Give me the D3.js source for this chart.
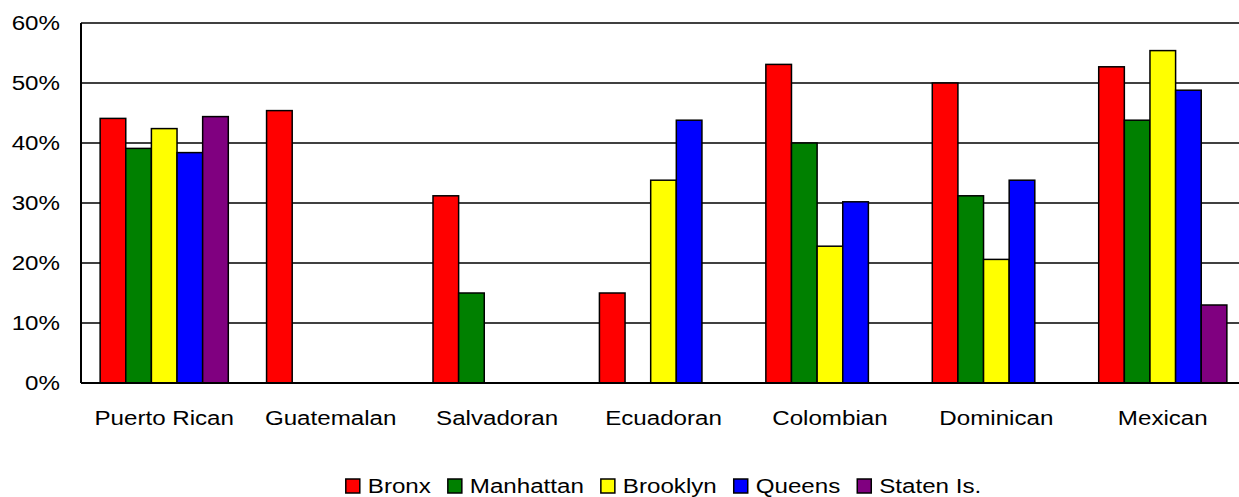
<!DOCTYPE html>
<html>
<head>
<meta charset="utf-8">
<script src="https://cdn.jsdelivr.net/npm/d3@7"></script>
<style>
  html, body { margin: 0; padding: 0; background: #fff; overflow: hidden; }
  svg { display: block; font-family: "Liberation Sans", Arial, sans-serif; }
</style>
</head>
<body>
<div id="chart"></div>
<script>
// --- data (percent) ---
const categories = ["Puerto Rican", "Guatemalan", "Salvadoran", "Ecuadoran", "Colombian", "Dominican", "Mexican"];
const seriesNames = ["Bronx", "Manhattan", "Brooklyn", "Queens", "Staten Is."];
const seriesColors = ["#ff0000", "#008000", "#ffff00", "#0000ff", "#800080"];
const bronx     = [44.1, 45.4, 31.2, 15.0, 53.1, 50.0, 52.7];
const manhattan = [39.1, null, 15.0, null, 40.0, 31.2, 43.8];
const brooklyn  = [42.4, null, null, 33.8, 22.8, 20.6, 55.4];
const queens    = [38.4, null, null, 43.8, 30.2, 33.8, 48.8];
const statenIs  = [44.4, null, null, null, null, null, 13.0];
const yTicks = [0, 10, 20, 30, 40, 50, 60];

const seriesValues = [bronx, manhattan, brooklyn, queens, statenIs];

const width = 1239, height = 497;
const plot = { left: 81, right: 1246, top: 23, bottom: 383 };
const FONT = 21, STRETCH = 1.15;

const svg = d3.select("#chart").append("svg")
    .attr("width", width)
    .attr("height", height);

const x0 = d3.scaleBand().domain(categories).range([plot.left, plot.right]).padding(0);
const groupPad = x0.bandwidth() * 0.115;
const x1 = d3.scaleBand().domain(seriesNames).range([groupPad, x0.bandwidth() - groupPad]).padding(0);
const y = d3.scaleLinear().domain([0, 60]).range([plot.bottom, plot.top]);

// gridlines
svg.append("g")
    .selectAll("line")
    .data(yTicks.filter(t => t > 0))
    .join("line")
    .attr("x1", plot.left)
    .attr("x2", plot.right)
    .attr("y1", d => y(d))
    .attr("y2", d => y(d))
    .attr("stroke", "#000")
    .attr("stroke-width", 1.4);

// y labels
svg.append("g")
    .selectAll("text")
    .data(yTicks)
    .join("text")
    .attr("transform", d => `translate(60,${y(d) + 7}) scale(${STRETCH},1)`)
    .attr("text-anchor", "end")
    .style("font-size", FONT + "px")
    .attr("fill", "#000")
    .text(d => d + "%");

// bars
const rows = [];
seriesNames.forEach((s, si) => {
    categories.forEach((c, ci) => {
        const v = seriesValues[si][ci];
        if (v != null) rows.push({ cat: c, series: s, value: v, color: seriesColors[si] });
    });
});

svg.append("g")
    .selectAll("rect")
    .data(rows)
    .join("rect")
    .attr("x", d => x0(d.cat) + x1(d.series))
    .attr("y", d => y(d.value))
    .attr("width", x1.bandwidth())
    .attr("height", d => y(0) - y(d.value))
    .attr("fill", d => d.color)
    .attr("stroke", "#000")
    .attr("stroke-width", 1.5);

// axes lines
svg.append("line")
    .attr("x1", plot.left).attr("x2", plot.left)
    .attr("y1", plot.top).attr("y2", plot.bottom)
    .attr("stroke", "#000").attr("stroke-width", 2);
svg.append("line")
    .attr("x1", plot.left).attr("x2", plot.right)
    .attr("y1", plot.bottom).attr("y2", plot.bottom)
    .attr("stroke", "#000").attr("stroke-width", 2);

// category labels
svg.append("g")
    .selectAll("text")
    .data(categories)
    .join("text")
    .attr("transform", d => `translate(${x0(d) + x0.bandwidth() / 2},425) scale(${STRETCH},1)`)
    .attr("text-anchor", "middle")
    .style("font-size", FONT + "px")
    .attr("fill", "#000")
    .text(d => d);

// legend
const legend = svg.append("g");
const box = 14, boxGap = 8, itemGap = 17;
const items = seriesNames.map((name, i) => {
    const g = legend.append("g");
    g.append("rect")
        .attr("x", 0).attr("y", 479)
        .attr("width", box).attr("height", box)
        .attr("fill", seriesColors[i])
        .attr("stroke", "#000").attr("stroke-width", 1.5);
    const t = g.append("text")
        .attr("transform", `translate(${box + boxGap},493) scale(${STRETCH},1)`)
        .style("font-size", FONT + "px")
        .attr("fill", "#000")
        .text(name);
    const w = box + boxGap + t.node().getComputedTextLength() * STRETCH;
    return { g, w };
});
const total = d3.sum(items, d => d.w) + itemGap * (items.length - 1);
let lx = (plot.left + plot.right) / 2 - total / 2;
items.forEach(it => {
    it.g.attr("transform", `translate(${lx},0)`);
    lx += it.w + itemGap;
});
</script>
</body>
</html>
